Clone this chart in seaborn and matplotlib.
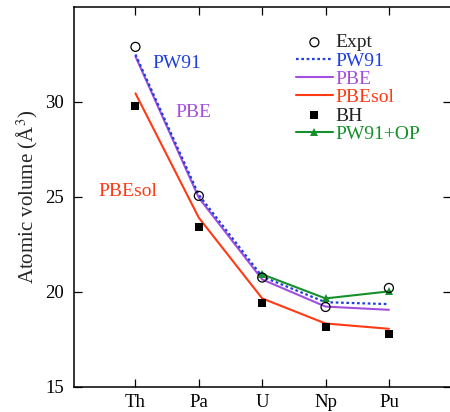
import numpy as np
import pandas as pd
import matplotlib
matplotlib.use("Agg")
import matplotlib.pyplot as plt
import seaborn as sns

elements = ["Th", "Pa", "U", "Np", "Pu"]

expt = [32.9, 25.05, 20.75, 19.2, 20.2]
pw91 = [32.5, 25.1, 20.8, 19.45, 19.35]
pbe = [32.4, 24.95, 20.65, 19.22, 19.05]
pbesol = [30.45, 23.9, 19.65, 18.33, 18.05]
bh = [29.8, 23.4, 19.4, 18.13, 17.75]
op_elements = ["U", "Np", "Pu"]
pw91_op = [20.92, 19.65, 20.02]

c_blue = "#1f3fe0"
c_purple = "#a24fe0"
c_red = "#ff3a14"
c_green = "#15902a"

sns.set_style("ticks")
plt.rcParams["font.family"] = ["Liberation Serif", "DejaVu Serif"]
plt.rcParams["mathtext.fontset"] = "stix"

pos = {e: i for i, e in enumerate(elements)}
x_all = [pos[e] for e in elements]
x_op = [pos[e] for e in op_elements]

fig = plt.figure(figsize=(4.5, 4.12), dpi=100)
ax = fig.add_axes([74 / 450, (412 - 386.7) / 412, 377 / 450, 379.7 / 412])

sns.scatterplot(x=x_all, y=expt, ax=ax, marker="o", s=42, facecolor="none",
                edgecolor="black", linewidth=0.9, label="Expt", zorder=5)
sns.lineplot(x=x_all, y=pw91, ax=ax, color=c_blue, linestyle=(0, (1.2, 1.2)),
             linewidth=1.6, label="PW91", zorder=3)
sns.lineplot(x=x_all, y=pbe, ax=ax, color=c_purple, linewidth=1.5,
             label="PBE", zorder=2)
sns.lineplot(x=x_all, y=pbesol, ax=ax, color=c_red, linewidth=1.5,
             label="PBEsol", zorder=2)
sns.scatterplot(x=x_all, y=bh, ax=ax, marker="s", s=34, color="black",
                edgecolor="black", linewidth=0, label="BH", zorder=4)
sns.lineplot(x=x_op, y=pw91_op, ax=ax, color=c_green, linewidth=1.5,
             marker="^", markersize=6, markeredgewidth=0, label="PW91+OP", zorder=4)

ax.set_xlim(-0.97, 4.98)
ax.set_ylim(15, 35)
ax.set_xticks(x_all)
ax.set_xticklabels(elements)
ax.set_yticks([15, 20, 25, 30])
ax.tick_params(direction="in", length=6, width=0.9, top=True, right=True,
               labelsize=13.5, colors="black")
ax.tick_params(axis="x", pad=5)
ax.tick_params(axis="y", pad=7)
for side in ax.spines.values():
    side.set_linewidth(1.1)
    side.set_color("black")
ax.set_ylabel("Atomic volume (Å$^3$)", fontsize=15, labelpad=4)

ax.text(0.27, 32.05, "PW91", color=c_blue, fontsize=14, va="center", ha="left")
ax.text(0.63, 29.46, "PBE", color=c_purple, fontsize=14, va="center", ha="left")
ax.text(-0.59, 25.3, "PBEsol", color=c_red, fontsize=14, va="center", ha="left")

leg = ax.legend(loc="upper left", bbox_to_anchor=(0.568, 0.95), frameon=False,
                fontsize=14, handlelength=1.9, handletextpad=0.15,
                labelspacing=0.035, borderaxespad=0)
label_colors = ["#222222", c_blue, c_purple, c_red, "#222222", c_green]
for txt, col in zip(leg.get_texts(), label_colors):
    txt.set_color(col)

fig.savefig("out.png", dpi=100)
